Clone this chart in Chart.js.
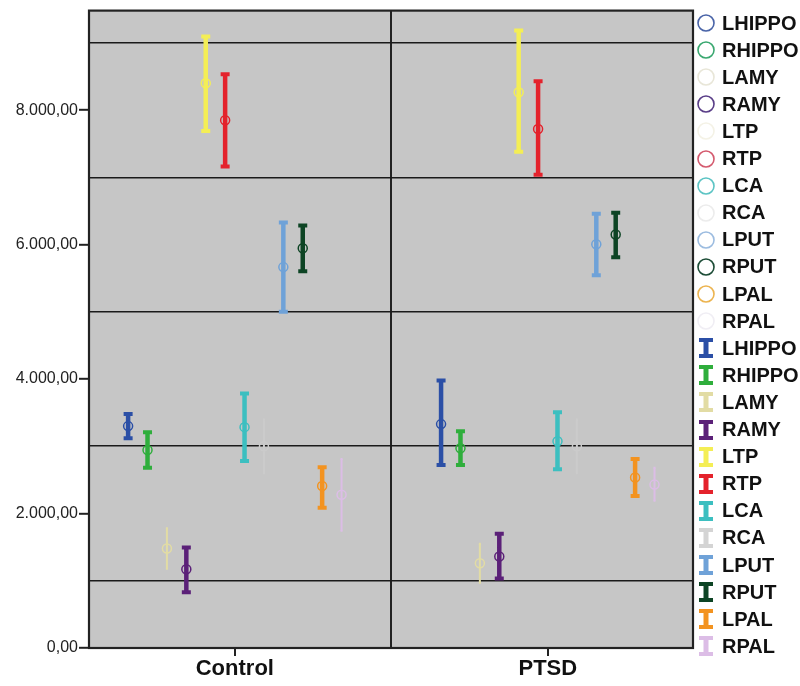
<!DOCTYPE html>
<html>
<head>
<meta charset="utf-8">
<script src="https://cdn.jsdelivr.net/npm/chart.js@4.4.1/dist/chart.umd.min.js"></script>
<style>
  body { margin: 0; background: #fff; }
  #wrap { position: relative; width: 800px; height: 686px; }
  #legend { position: absolute; left: 696px; top: 0; font: bold 20px "Liberation Sans", Arial, sans-serif; color: #111; }
  .item { position: absolute; left: 0; height: 27px; display: flex; align-items: center; white-space: nowrap; }
  .item svg { width: 20px; height: 22px; margin-right: 6px; }
</style>
</head>
<body>
<div id="wrap">
  <canvas id="chart" width="800" height="686"></canvas>
  <div id="legend"></div>
</div>
<script>
// groups on the x axis and the 12 regions (one series each)
const groups = ["Control", "PTSD"];
const regions = ["LHIPPO", "RHIPPO", "LAMY", "RAMY", "LTP", "RTP", "LCA", "RCA", "LPUT", "RPUT", "LPAL", "RPAL"];

// means and 95% CI
const meanControl = [3300, 2945, 1480, 1170, 8400, 7850, 3285, 3000, 5665, 5945, 2410, 2280];
const lowControl  = [3120, 2680, 1180,  830, 7690, 7160, 2780, 2600, 5000, 5605, 2085, 1745];
const highControl = [3480, 3210, 1780, 1495, 9095, 8535, 3785, 3400, 6330, 6285, 2690, 2810];

const meanPTSD = [3330, 2970, 1260, 1360, 8265, 7720, 3075, 3000, 6005, 6150, 2535, 2430];
const lowPTSD  = [2720, 2720,  970, 1035, 7380, 7040, 2660, 2600, 5545, 5810, 2260, 2190];
const highPTSD = [3980, 3225, 1550, 1700, 9185, 8430, 3505, 3400, 6460, 6475, 2810, 2680];

const yTicks = [0, 2000, 4000, 6000, 8000];
const refLines = [1000, 3000, 5000, 7000, 9000];

const colors = ["#2b4fa6", "#2fae3c", "#e2dca4", "#5b2078", "#f4ee55", "#e4222c",
                "#3cbfc0", "#d4d4d4", "#6fa2d8", "#0d4424", "#f39320", "#dcbde6"];
// on the grey panel some of them barely show
const plotColors = colors.map((c, i) => (regions[i] === "RCA" ? "#cbcbcb" : c));
const legendCircle = ["#4a64a8", "#3aa870", "#e8e6d8", "#5a3e88", "#f4f2e6", "#d45a6e",
                      "#5cc4c4", "#ececec", "#9cbce0", "#1c4c36", "#ecb450", "#f0eef4"];
const faint = [false, false, true, false, false, false, false, true, false, false, false, true];

const STEP = 0.062; // spacing of the regions inside one group, in x-axis units

function fmt(v) {
  const s = Math.round(v).toString().replace(/\B(?=(\d{3})+(?!\d))/g, ".");
  return s + ",00";
}

function seriesData(i) {
  const xc = 0 + (i - 5.5) * STEP;
  const xp = 1 + (i - 5.5) * STEP;
  return [
    { x: xc, y: lowControl[i] }, { x: xc, y: meanControl[i] }, { x: xc, y: highControl[i] },
    { x: 0.5, y: null },
    { x: xp, y: lowPTSD[i] }, { x: xp, y: meanPTSD[i] }, { x: xp, y: highPTSD[i] }
  ];
}

const panelPlugin = {
  id: "panel",
  beforeDraw(chart) {
    const { ctx, chartArea: a } = chart;
    ctx.save();
    ctx.fillStyle = "#c6c6c6";
    ctx.fillRect(a.left, a.top, a.right - a.left, a.bottom - a.top);
    ctx.restore();
  },
  afterDraw(chart) {
    const { ctx, chartArea: a } = chart;
    ctx.save();
    ctx.strokeStyle = "#222";
    ctx.lineWidth = 2.2;
    ctx.strokeRect(a.left, a.top, a.right - a.left, a.bottom - a.top);
    ctx.restore();
  }
};

Chart.defaults.font.family = '"Liberation Sans", Arial, sans-serif';
Chart.defaults.color = "#222";

new Chart(document.getElementById("chart"), {
  type: "line",
  data: {
    datasets: regions.map((name, i) => ({
      label: name,
      data: seriesData(i),
      borderColor: plotColors[i],
      borderWidth: faint[i] ? 2 : 4.5,
      spanGaps: false,
      tension: 0,
      pointStyle: (c) => (c.dataIndex % 4 === 1 ? "circle" : "line"),
      pointRadius: (c) => (c.dataIndex % 4 === 1 ? 4.5 : (faint[i] ? 1 : 4.5)),
      pointBorderWidth: (c) => (c.dataIndex % 4 === 1 ? 1.5 : (faint[i] ? 2 : 4)),
      pointBorderColor: plotColors[i],
      pointBackgroundColor: "rgba(0,0,0,0)"
    }))
  },
  options: {
    responsive: false,
    animation: false,
    events: [],
    layout: { padding: { top: 7, right: 107, left: 0, bottom: 0 } },
    plugins: { legend: { display: false }, tooltip: { enabled: false } },
    scales: {
      x: {
        type: "linear",
        min: -0.466,
        max: 1.464,
        afterBuildTicks: (s) => { s.ticks = [{ value: 0 }, { value: 0.5 }, { value: 1 }]; },
        afterFit: (s) => { s.height = 38; },
        ticks: {
          autoSkip: false,
          maxRotation: 0,
          padding: 0,
          color: "#111",
          font: { size: 22, weight: "bold" },
          callback: (v) => (v === 0 ? groups[0] : v === 1 ? groups[1] : "")
        },
        grid: {
          color: (c) => (c.tick && c.tick.value === 0.5 ? "#222" : "rgba(0,0,0,0)"),
          tickColor: (c) => (c.tick && c.tick.value === 0.5 ? "rgba(0,0,0,0)" : "#222"),
          lineWidth: 2,
          tickLength: 8,
          tickWidth: 2
        },
        border: { display: true, color: "#222", width: 2 }
      },
      y: {
        min: 0,
        max: 9480,
        ticks: {
          autoSkip: false,
          padding: 1,
          color: "#222",
          font: { size: 16 },
          callback: (v) => (yTicks.includes(v) ? fmt(v) : "")
        },
        afterBuildTicks: (s) => {
          s.ticks = yTicks.concat(refLines).sort((a, b) => a - b).map((v) => ({ value: v }));
        },
        afterFit: (s) => { s.width = 89; },
        grid: {
          color: (c) => (c.tick && refLines.includes(c.tick.value) ? "#1a1a1a" : "rgba(0,0,0,0)"),
          tickColor: (c) => (c.tick && yTicks.includes(c.tick.value) ? "#222" : "rgba(0,0,0,0)"),
          lineWidth: 1.6,
          tickLength: 10,
          tickWidth: 2
        },
        border: { display: true, color: "#222", width: 2 }
      }
    }
  },
  plugins: [panelPlugin]
});

// legend: 12 mean markers then 12 error bar markers
const legend = document.getElementById("legend");
const ROW = 27.1;
regions.forEach((name, i) => {
  const a = document.createElement("div");
  a.className = "item";
  a.style.top = (23 + i * ROW - 13.5) + "px";
  a.innerHTML = `<svg viewBox="0 0 20 22"><circle cx="10" cy="11" r="8" fill="none" stroke="${legendCircle[i]}" stroke-width="1.6"/></svg><span>${name}</span>`;
  legend.appendChild(a);

  const b = document.createElement("div");
  b.className = "item";
  b.style.top = (23 + (i + 12) * ROW - 13.5) + "px";
  b.innerHTML = `<svg viewBox="0 0 20 22"><rect x="3" y="1" width="14" height="4" fill="${colors[i]}"/><rect x="7.5" y="1" width="5" height="20" fill="${colors[i]}"/><rect x="3" y="17" width="14" height="4" fill="${colors[i]}"/></svg><span>${name}</span>`;
  legend.appendChild(b);
});
</script>
</body>
</html>
